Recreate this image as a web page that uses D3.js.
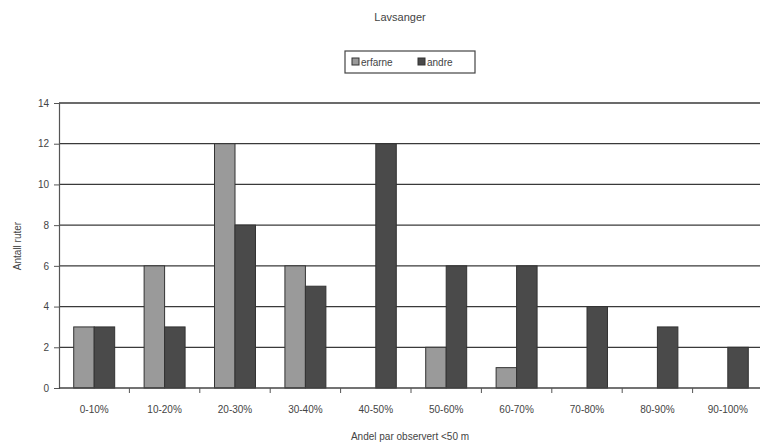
<!DOCTYPE html>
<html>
<head>
<meta charset="utf-8">
<script src="https://cdn.jsdelivr.net/npm/d3@7"></script>
<style>
  body { margin: 0; background: #fff; }
  svg { display: block; font-family: "Liberation Sans", Arial, sans-serif; }
</style>
</head>
<body>
<script>
const categories = ["0-10%", "10-20%", "20-30%", "30-40%", "40-50%", "50-60%", "60-70%", "70-80%", "80-90%", "90-100%"];
const erfarne = [3, 6, 12, 6, 0, 2, 1, 0, 0, 0];
const andre = [3, 3, 8, 5, 12, 6, 6, 4, 3, 2];
const seriesNames = ["erfarne", "andre"];
const yTicks = [0, 2, 4, 6, 8, 10, 12, 14];

const W = 762, H = 445;
const margin = { left: 59, right: 0, top: 103, bottom: 57 };
const colors = { erfarne: "#9a9a9a", andre: "#4a4a4a" };

const svg = d3.select("body").append("svg").attr("width", W).attr("height", H);

const x = d3.scaleBand().domain(categories).range([margin.left, 763]).paddingInner(0.418).paddingOuter(0.209);
const xs = d3.scaleBand().domain(seriesNames).range([0, x.bandwidth()]);
const y = d3.scaleLinear().domain([0, 14]).range([H - margin.bottom - 0, margin.top]);

// horizontal gridlines
svg.append("g").selectAll("line").data(yTicks.filter(d => d > 0)).join("line")
  .attr("x1", margin.left).attr("x2", 760)
  .attr("y1", d => y(d)).attr("y2", d => y(d))
  .attr("stroke", "#3a3a3a").attr("stroke-width", 1.3);

// bars
const rows = categories.map((c, i) => ({ cat: c, erfarne: erfarne[i], andre: andre[i] }));
const groups = svg.append("g").selectAll("g").data(rows).join("g")
  .attr("transform", d => `translate(${x(d.cat)},0)`);
groups.selectAll("rect")
  .data(d => seriesNames.map(s => ({ s, v: d[s] })).filter(e => e.v > 0))
  .join("rect")
  .attr("x", e => xs(e.s)).attr("width", xs.bandwidth())
  .attr("y", e => y(e.v)).attr("height", e => y(0) - y(e.v))
  .attr("fill", e => colors[e.s]).attr("stroke", "#333").attr("stroke-width", 1);

// y axis
const yAxis = d3.axisLeft(y).tickValues(yTicks).tickSize(5).tickFormat(d3.format("d"));
const gy = svg.append("g").attr("transform", `translate(${margin.left},0)`).call(yAxis);
gy.select(".domain").attr("stroke", "#555").attr("stroke-width", 1.2);
gy.selectAll(".tick line").attr("stroke", "#555");
gy.selectAll("text").attr("font-size", 10).attr("fill", "#444").attr("x", -10);

// x axis with ticks between categories
const gx = svg.append("g").attr("transform", `translate(0,${y(0)})`);
gx.append("line").attr("x1", margin.left).attr("x2", 760).attr("y1", 0).attr("y2", 0)
  .attr("stroke", "#444").attr("stroke-width", 1.3);
const step = x.step();
gx.selectAll("line.tk").data(d3.range(1, categories.length)).join("line").attr("class", "tk")
  .attr("x1", i => margin.left + i * step).attr("x2", i => margin.left + i * step)
  .attr("y1", 0).attr("y2", 5).attr("stroke", "#555");
gx.selectAll("text").data(categories).join("text")
  .attr("x", d => x(d) + x.bandwidth() / 2).attr("y", 25)
  .attr("text-anchor", "middle").attr("font-size", 10).attr("fill", "#444").text(d => d);

// titles
svg.append("text").attr("x", 400).attr("y", 21).attr("text-anchor", "middle")
  .attr("font-size", 11).attr("fill", "#444").text("Lavsanger");
svg.append("text").attr("x", 410).attr("y", 440).attr("text-anchor", "middle")
  .attr("font-size", 10).attr("fill", "#444").text("Andel par observert <50 m");
svg.append("text").attr("transform", "translate(21,246) rotate(-90)").attr("text-anchor", "middle")
  .attr("font-size", 10).attr("fill", "#444").text("Antall ruter");

// legend
const lg = svg.append("g").attr("transform", "translate(345,51)");
lg.append("rect").attr("width", 130).attr("height", 22).attr("fill", "#fff")
  .attr("stroke", "#444").attr("stroke-width", 1.2);
const items = [{ s: "erfarne", x: 7 }, { s: "andre", x: 73 }];
items.forEach(it => {
  lg.append("rect").attr("x", it.x).attr("y", 7).attr("width", 7).attr("height", 7)
    .attr("fill", colors[it.s]).attr("stroke", "#333");
  lg.append("text").attr("x", it.x + 9).attr("y", 15).attr("font-size", 10).attr("fill", "#444").text(it.s);
});
</script>
</body>
</html>
